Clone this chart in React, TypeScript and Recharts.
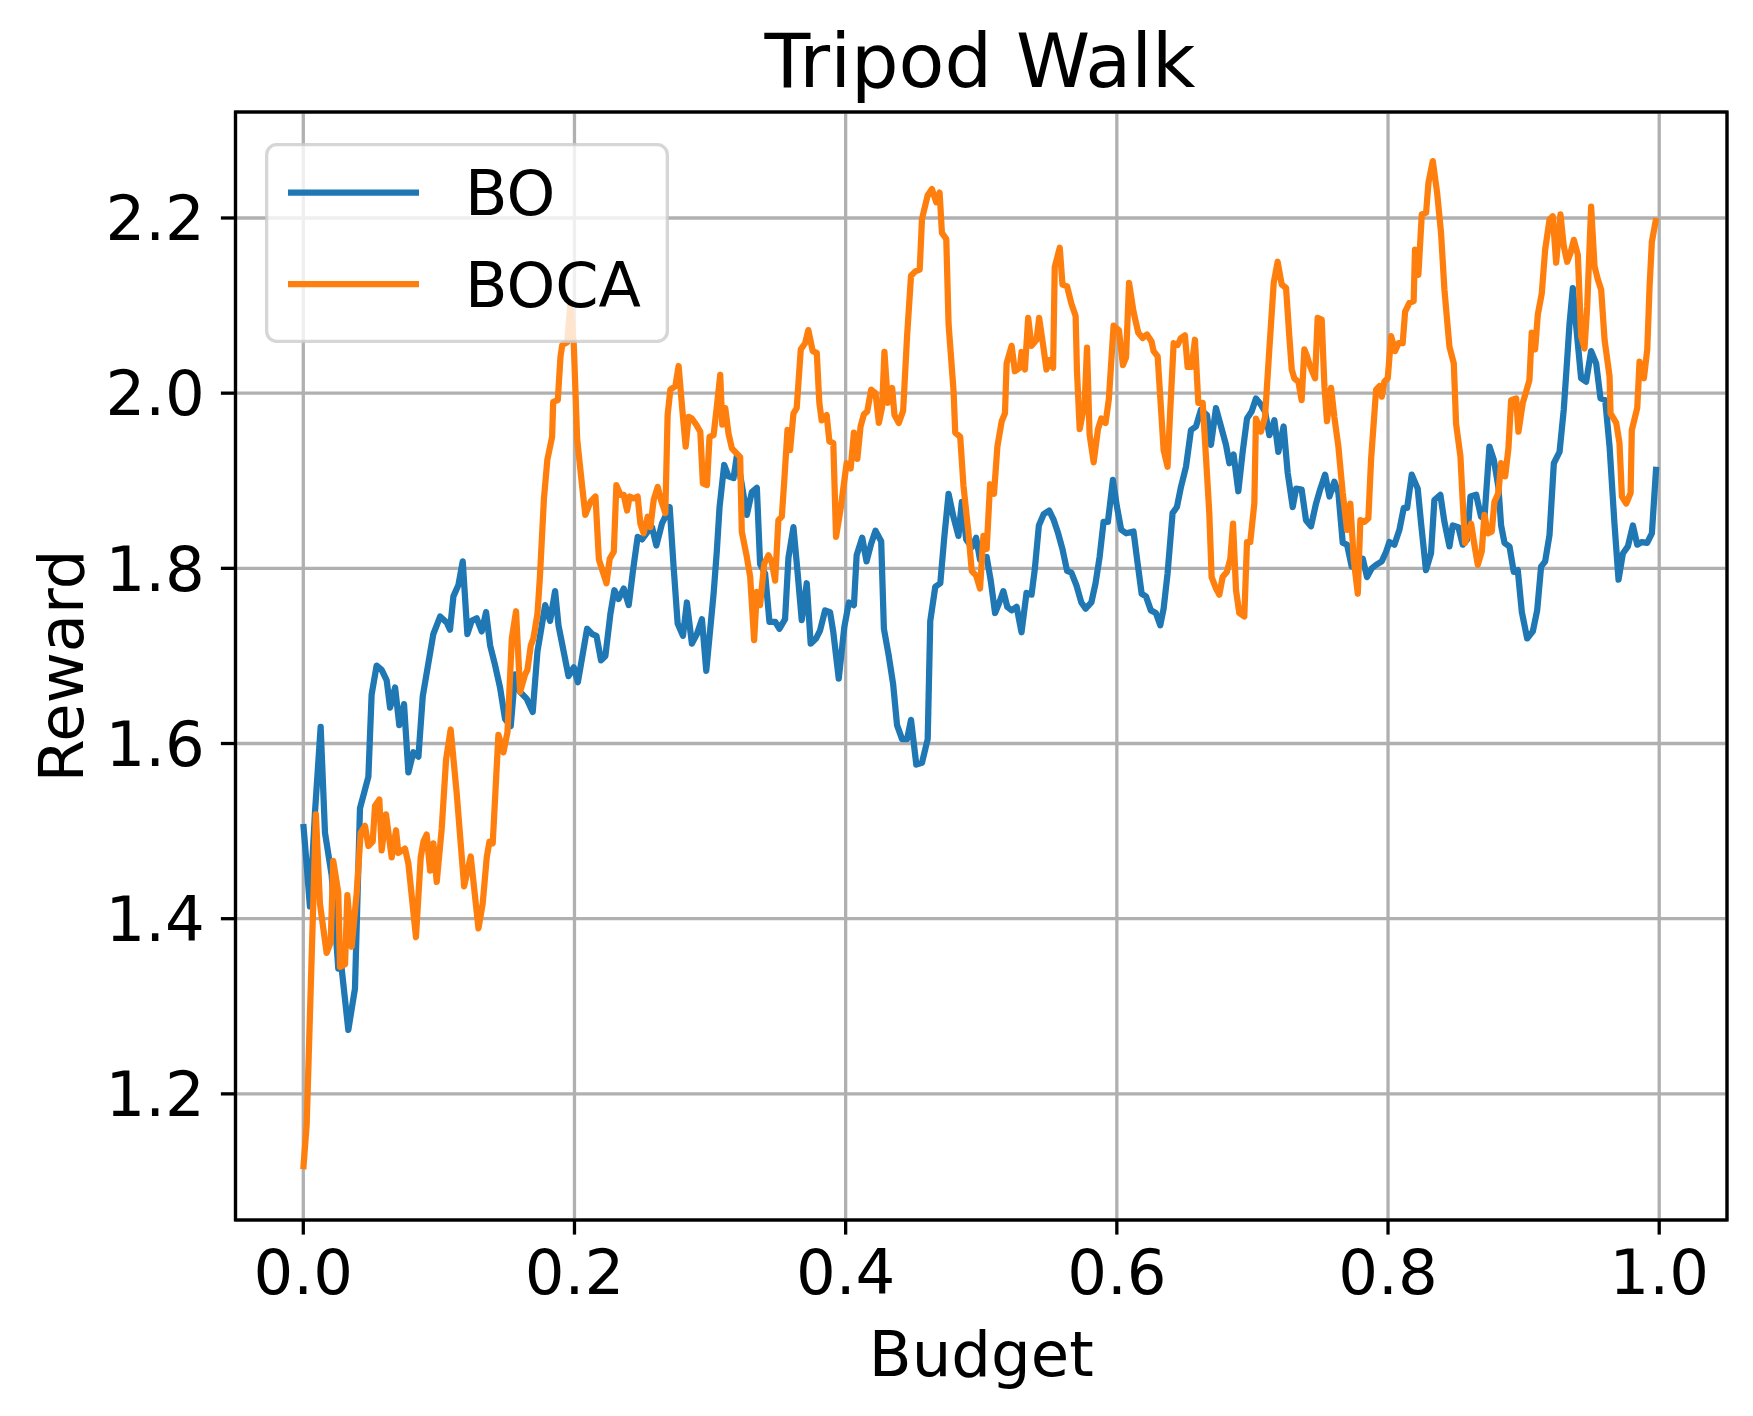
import React from "react";
import { LineChart, Line, XAxis, YAxis, CartesianGrid } from "recharts";

const TITLE = "Tripod Walk";
const X_LABEL = "Budget";
const Y_LABEL = "Reward";
const SERIES_NAMES = ["BO", "BOCA"];

const X_TICKS = [0, 0.2, 0.4, 0.6, 0.8, 1.0];
const Y_TICKS = [1.2, 1.4, 1.6, 1.8, 2.0, 2.2];

const BO_BUDGET = [
  0, 0.0012, 0.0049, 0.0086, 0.0128, 0.016, 0.0209, 0.0258, 0.0283, 0.0332,
  0.0381, 0.0418, 0.048, 0.0504, 0.0541, 0.0578, 0.0615, 0.064, 0.0677, 0.0708,
  0.0743, 0.0775, 0.0812, 0.0849, 0.0881, 0.0959, 0.1009, 0.1058, 0.1082, 0.1107,
  0.1144, 0.1176, 0.121, 0.1242, 0.1279, 0.1316, 0.1348, 0.1378, 0.1415, 0.1451,
  0.1488, 0.153, 0.1562, 0.1599, 0.1648, 0.1692, 0.1727, 0.1784, 0.182, 0.1857,
  0.1882, 0.1956, 0.1995, 0.2025, 0.2093, 0.213, 0.2162, 0.2196, 0.2228, 0.2265,
  0.2294, 0.2326, 0.2363, 0.24, 0.2432, 0.2466, 0.2498, 0.254, 0.2572, 0.2604,
  0.2645, 0.2682, 0.2702, 0.2731, 0.2761, 0.28, 0.2829, 0.2866, 0.2903, 0.294,
  0.2972, 0.3026, 0.305, 0.307, 0.3104, 0.3136, 0.3173, 0.3198, 0.3271, 0.3308,
  0.3345, 0.3369, 0.3406, 0.3438, 0.348, 0.3512, 0.3553, 0.3578, 0.3615, 0.3644,
  0.3676, 0.3713, 0.3742, 0.3782, 0.3811, 0.3848, 0.3885, 0.3909, 0.3949, 0.399,
  0.4024, 0.4061, 0.4081, 0.4122, 0.4154, 0.4188, 0.422, 0.4262, 0.4282, 0.4318,
  0.435, 0.4379, 0.4416, 0.4453, 0.4482, 0.4521, 0.4563, 0.4605, 0.4624, 0.4661,
  0.4698, 0.4727, 0.4759, 0.4796, 0.4832, 0.4857, 0.4889, 0.493, 0.4962, 0.4991,
  0.504, 0.507, 0.5102, 0.5133, 0.5163, 0.5192, 0.5224, 0.5261, 0.5297, 0.5334,
  0.5371, 0.5395, 0.5425, 0.5461, 0.5501, 0.5535, 0.5567, 0.5599, 0.5633, 0.5665,
  0.5701, 0.5738, 0.577, 0.5812, 0.5843, 0.5873, 0.5902, 0.5934, 0.5971, 0.6,
  0.6032, 0.6069, 0.6123, 0.6153, 0.6183, 0.6215, 0.6251, 0.6288, 0.632, 0.6345,
  0.6374, 0.6411, 0.6443, 0.6473, 0.651, 0.6547, 0.6584, 0.662, 0.6665, 0.6694,
  0.6731, 0.6768, 0.6805, 0.683, 0.6861, 0.6896, 0.6928, 0.696, 0.6994, 0.7026,
  0.7058, 0.7093, 0.7125, 0.7162, 0.7191, 0.723, 0.726, 0.7297, 0.7322, 0.7363,
  0.7395, 0.7432, 0.7469, 0.7501, 0.7536, 0.7568, 0.7604, 0.7634, 0.7666, 0.7698,
  0.7732, 0.7772, 0.7814, 0.7845, 0.788, 0.7912, 0.7954, 0.7986, 0.801, 0.8047,
  0.8084, 0.8116, 0.8141, 0.8175, 0.8219, 0.8244, 0.828, 0.8317, 0.8342, 0.8386,
  0.8416, 0.8453, 0.8477, 0.8519, 0.8551, 0.8583, 0.8608, 0.865, 0.8686, 0.8711,
  0.8748, 0.878, 0.8814, 0.8834, 0.8859, 0.8896, 0.8927, 0.8957, 0.8987, 0.9026,
  0.9068, 0.91, 0.9129, 0.9159, 0.9191, 0.9223, 0.9265, 0.9296, 0.9321, 0.9338,
  0.9363, 0.9388, 0.9424, 0.9461, 0.9498, 0.9535, 0.9567, 0.9602, 0.9634, 0.967,
  0.97, 0.9732, 0.9769, 0.9806, 0.9838, 0.9872, 0.9911, 0.9946, 0.9978,
];

const BO_REWARD = [
  1.508, 1.486, 1.414, 1.521, 1.619, 1.498, 1.45, 1.343, 1.343, 1.273,
  1.32, 1.526, 1.562, 1.656, 1.689, 1.684, 1.672, 1.641, 1.664, 1.621,
  1.645, 1.567, 1.59, 1.585, 1.654, 1.725, 1.745, 1.738, 1.73, 1.768,
  1.781, 1.808, 1.725, 1.74, 1.743, 1.728, 1.75, 1.712, 1.689, 1.664,
  1.628, 1.62, 1.679, 1.659, 1.651, 1.636, 1.705, 1.758, 1.74, 1.774,
  1.735, 1.677, 1.687, 1.67, 1.731, 1.725, 1.723, 1.695, 1.7, 1.748,
  1.775, 1.765, 1.777, 1.758, 1.798, 1.836, 1.833, 1.842, 1.847, 1.826,
  1.851, 1.863, 1.87, 1.802, 1.737, 1.723, 1.761, 1.714, 1.725, 1.742,
  1.683, 1.771, 1.82, 1.87, 1.918, 1.905, 1.903, 1.929, 1.861, 1.887,
  1.892, 1.805, 1.794, 1.739, 1.739, 1.731, 1.742, 1.812, 1.847, 1.798,
  1.741, 1.783, 1.714, 1.72, 1.729, 1.752, 1.75, 1.727, 1.674, 1.733,
  1.761, 1.758, 1.815, 1.835, 1.808, 1.828, 1.843, 1.831, 1.731, 1.7,
  1.668, 1.621, 1.605, 1.605, 1.627, 1.576, 1.578, 1.605, 1.74, 1.779,
  1.783, 1.835, 1.885, 1.858, 1.837, 1.876, 1.833, 1.824, 1.835, 1.81,
  1.813, 1.786, 1.749, 1.761, 1.774, 1.756, 1.752, 1.756, 1.727, 1.772,
  1.77, 1.799, 1.849, 1.862, 1.866, 1.855, 1.84, 1.822, 1.797, 1.795,
  1.781, 1.761, 1.754, 1.761, 1.783, 1.813, 1.853, 1.853, 1.901, 1.871,
  1.844, 1.84, 1.842, 1.806, 1.771, 1.768, 1.752, 1.749, 1.735, 1.754,
  1.794, 1.863, 1.87, 1.893, 1.916, 1.958, 1.962, 1.981, 1.975, 1.941,
  1.983, 1.962, 1.941, 1.92, 1.93, 1.888, 1.933, 1.971, 1.979, 1.994,
  1.988, 1.979, 1.952, 1.969, 1.933, 1.962, 1.909, 1.87, 1.891, 1.89,
  1.855, 1.848, 1.874, 1.891, 1.907, 1.882, 1.899, 1.886, 1.829, 1.827,
  1.802, 1.802, 1.811, 1.79, 1.8, 1.804, 1.808, 1.819, 1.83, 1.827,
  1.844, 1.869, 1.869, 1.907, 1.891, 1.851, 1.798, 1.817, 1.878, 1.884,
  1.853, 1.825, 1.849, 1.847, 1.827, 1.833, 1.882, 1.884, 1.859, 1.857,
  1.939, 1.924, 1.893, 1.849, 1.829, 1.825, 1.796, 1.798, 1.75, 1.72,
  1.728, 1.752, 1.802, 1.808, 1.838, 1.92, 1.933, 1.981, 2.038, 2.078,
  2.12, 2.076, 2.017, 2.013, 2.048, 2.034, 1.994, 1.992, 1.939, 1.851,
  1.787, 1.817, 1.825, 1.849, 1.827, 1.83, 1.829, 1.84, 1.916,
];

const BOCA_BUDGET = [
  0, 0.0025, 0.0093, 0.0123, 0.0172, 0.0202, 0.0221, 0.0258, 0.0271, 0.0308,
  0.0325, 0.0357, 0.0394, 0.0423, 0.0455, 0.048, 0.0512, 0.0529, 0.0561, 0.0578,
  0.061, 0.0652, 0.0684, 0.0701, 0.075, 0.0775, 0.0831, 0.0866, 0.0886, 0.091,
  0.0935, 0.0959, 0.0984, 0.1021, 0.1053, 0.1087, 0.1132, 0.1186, 0.1235, 0.1292,
  0.1323, 0.1353, 0.1373, 0.1397, 0.1439, 0.1476, 0.1506, 0.1538, 0.1569, 0.1599,
  0.1636, 0.1653, 0.1678, 0.1697, 0.1727, 0.1745, 0.1775, 0.18, 0.1835, 0.1843,
  0.1877, 0.1897, 0.191, 0.1946, 0.197, 0.1995, 0.202, 0.2057, 0.208, 0.2118,
  0.2155, 0.218, 0.2236, 0.226, 0.229, 0.2309, 0.2339, 0.2363, 0.2388, 0.2407,
  0.2437, 0.2466, 0.2486, 0.251, 0.254, 0.256, 0.2584, 0.2614, 0.2638, 0.267,
  0.2687, 0.2707, 0.2744, 0.2768, 0.28, 0.282, 0.2842, 0.2866, 0.2898, 0.2928,
  0.2947, 0.2977, 0.2996, 0.3026, 0.305, 0.3075, 0.309, 0.3112, 0.3136, 0.3161,
  0.3185, 0.3222, 0.3234, 0.3271, 0.3296, 0.3325, 0.3345, 0.3369, 0.3399, 0.3431,
  0.3455, 0.348, 0.3504, 0.3529, 0.3546, 0.3571, 0.359, 0.3615, 0.3639, 0.3669,
  0.3701, 0.3725, 0.3757, 0.3787, 0.3806, 0.3823, 0.386, 0.388, 0.3909, 0.3929,
  0.3963, 0.4007, 0.4037, 0.4061, 0.4086, 0.411, 0.4135, 0.4159, 0.4188, 0.422,
  0.4245, 0.4269, 0.4286, 0.4311, 0.4343, 0.436, 0.4392, 0.4424, 0.4453, 0.4482,
  0.4514, 0.4546, 0.4563, 0.4605, 0.4636, 0.4668, 0.4693, 0.471, 0.4742, 0.4759,
  0.4796, 0.4808, 0.4845, 0.4869, 0.4906, 0.493, 0.4962, 0.4991, 0.5016, 0.504,
  0.5065, 0.5094, 0.5119, 0.5151, 0.5175, 0.5187, 0.5224, 0.5248, 0.5285, 0.5297,
  0.5322, 0.5346, 0.5371, 0.5408, 0.5427, 0.5457, 0.5481, 0.5506, 0.553, 0.5542,
  0.5579, 0.5599, 0.5633, 0.5665, 0.5696, 0.5706, 0.5726, 0.5763, 0.578, 0.5799,
  0.5829, 0.5861, 0.5885, 0.5917, 0.5941, 0.5976, 0.6015, 0.6045, 0.6068, 0.609,
  0.6123, 0.6158, 0.619, 0.6222, 0.6256, 0.6271, 0.6301, 0.632, 0.6345, 0.6374,
  0.6394, 0.6419, 0.6448, 0.6473, 0.6502, 0.6522, 0.6552, 0.6576, 0.6601, 0.6633,
  0.6657, 0.6682, 0.6699, 0.6731, 0.6756, 0.678, 0.6812, 0.6837, 0.6857, 0.6879,
  0.6903, 0.694, 0.696, 0.6984, 0.7014, 0.7026, 0.7063, 0.7093, 0.7125, 0.7157,
  0.7186, 0.7216, 0.7248, 0.7272, 0.729, 0.7309, 0.7339, 0.7363, 0.7383, 0.7403,
  0.7427, 0.7462, 0.7481, 0.7511, 0.7531, 0.755, 0.758, 0.7604, 0.7634, 0.7666,
  0.7698, 0.7722, 0.7747, 0.7777, 0.7796, 0.7826, 0.7855, 0.7875, 0.7912, 0.7937,
  0.7954, 0.7973, 0.7998, 0.8023, 0.8052, 0.8077, 0.8108, 0.8126, 0.8158, 0.8189,
  0.8199, 0.8224, 0.8249, 0.8281, 0.8298, 0.833, 0.8362, 0.8391, 0.8416, 0.8453,
  0.8485, 0.8502, 0.8534, 0.8551, 0.8568, 0.8613, 0.8637, 0.8662, 0.8691, 0.8711,
  0.8736, 0.8765, 0.8785, 0.8814, 0.8834, 0.8864, 0.8888, 0.8908, 0.8945, 0.8962,
  0.8994, 0.9019, 0.9043, 0.906, 0.9085, 0.9105, 0.9134, 0.9159, 0.9191, 0.9215,
  0.924, 0.9272, 0.9296, 0.9321, 0.9346, 0.937, 0.94, 0.9424, 0.9449, 0.9469,
  0.9498, 0.9523, 0.9547, 0.9572, 0.9597, 0.9634, 0.9641, 0.9683, 0.9707, 0.9725,
  0.9757, 0.9789, 0.9798, 0.9838, 0.9855, 0.9887, 0.9912, 0.9929, 0.9946, 0.9978,
];

const BOCA_REWARD = [
  1.114, 1.165, 1.519, 1.417, 1.361, 1.373, 1.466, 1.43, 1.345, 1.348,
  1.427, 1.368, 1.43, 1.498, 1.506, 1.483, 1.488, 1.529, 1.536, 1.478,
  1.519, 1.47, 1.501, 1.475, 1.48, 1.463, 1.379, 1.47, 1.488, 1.496,
  1.455, 1.486, 1.442, 1.503, 1.582, 1.616, 1.542, 1.437, 1.471, 1.389,
  1.417, 1.47, 1.488, 1.486, 1.61, 1.59, 1.613, 1.72, 1.751, 1.659,
  1.679, 1.684, 1.712, 1.72, 1.748, 1.79, 1.88, 1.924, 1.95, 1.99,
  1.992, 2.042, 2.055, 2.058, 2.102, 2.055, 1.947, 1.893, 1.861, 1.876,
  1.882, 1.81, 1.783, 1.811, 1.819, 1.895, 1.884, 1.884, 1.866, 1.882,
  1.88, 1.882, 1.851, 1.84, 1.859, 1.847, 1.878, 1.893, 1.878, 1.863,
  1.975, 2.004, 2.008, 2.031, 1.973, 1.939, 1.973, 1.971, 1.964, 1.956,
  1.897, 1.895, 1.95, 1.952, 1.985, 2.021, 1.964, 1.983, 1.954, 1.937,
  1.933, 1.927, 1.842, 1.813, 1.79, 1.718, 1.773, 1.758, 1.805, 1.815,
  1.807, 1.786, 1.855, 1.859, 1.897, 1.958, 1.935, 1.977, 1.983, 2.05,
  2.057, 2.072, 2.048, 2.046, 1.989, 1.969, 1.975, 1.945, 1.943, 1.836,
  1.868, 1.92, 1.914, 1.955, 1.925, 1.962, 1.976, 1.979, 2.004, 2.0,
  1.966, 1.984, 2.047, 1.989, 2.006, 1.975, 1.966, 1.98, 2.065, 2.134,
  2.139, 2.141, 2.199, 2.226, 2.233, 2.218, 2.229, 2.183, 2.176, 2.079,
  2.002, 1.955, 1.95, 1.894, 1.84, 1.797, 1.792, 1.777, 1.837, 1.822,
  1.896, 1.885, 1.939, 1.968, 1.977, 2.034, 2.054, 2.025, 2.029, 2.047,
  2.027, 2.086, 2.054, 2.061, 2.086, 2.054, 2.027, 2.038, 2.029, 2.144,
  2.166, 2.124, 2.122, 2.102, 2.088, 2.025, 1.959, 1.989, 2.052, 1.953,
  1.921, 1.959, 1.971, 1.966, 1.993, 2.077, 2.072, 2.032, 2.041, 2.126,
  2.093, 2.069, 2.063, 2.067, 2.059, 2.048, 2.042, 1.996, 1.935, 1.916,
  1.981, 2.057, 2.055, 2.063, 2.066, 2.03, 2.03, 2.061, 1.989, 1.989,
  1.928, 1.863, 1.79, 1.777, 1.77, 1.79, 1.796, 1.811, 1.851, 1.775,
  1.749, 1.745, 1.83, 1.83, 1.874, 1.971, 1.956, 1.973, 2.051, 2.126,
  2.15, 2.124, 2.12, 2.065, 2.027, 2.017, 2.013, 1.992, 2.05, 2.042,
  2.03, 2.017, 2.086, 2.084, 2.008, 1.968, 2.006, 1.973, 1.939, 1.886,
  1.844, 1.874, 1.81, 1.771, 1.855, 1.853, 1.857, 1.924, 2.004, 2.008,
  1.996, 2.013, 2.017, 2.065, 2.048, 2.057, 2.057, 2.093, 2.103, 2.105,
  2.164, 2.135, 2.204, 2.206, 2.24, 2.265, 2.229, 2.183, 2.118, 2.053,
  2.034, 1.965, 1.928, 1.876, 1.829, 1.851, 1.827, 1.804, 1.819, 1.861,
  1.84, 1.842, 1.876, 1.886, 1.92, 1.905, 1.937, 1.992, 1.994, 1.956,
  1.989, 2.002, 2.015, 2.069, 2.05, 2.09, 2.114, 2.164, 2.198, 2.202,
  2.149, 2.204, 2.168, 2.15, 2.16, 2.175, 2.158, 2.065, 2.051, 2.099,
  2.213, 2.145, 2.13, 2.118, 2.061, 2.019, 1.977, 1.966, 1.943, 1.882,
  1.874, 1.886, 1.958, 1.983, 2.036, 2.017, 2.05, 2.122, 2.173, 2.2,
];

const BLUE = "#1f77b4";
const ORANGE = "#ff7f0e";
const FONT = "'DejaVu Sans', sans-serif";

const W = 1753;
const H = 1416;
// plot box in page pixels
const PLOT = { left: 235.5, top: 112, right: 1727, bottom: 1220 };
const LW = 6.25;
const THIN = 3.3;
const TICK = 14.6;

const zip = (xs: number[], ys: number[]) => xs.map((x, i) => ({ x, y: ys[i] }));
const boData = zip(BO_BUDGET, BO_REWARD);
const bocaData = zip(BOCA_BUDGET, BOCA_REWARD);

const tickStyle = { fill: "#000", fontSize: 62.5, fontFamily: FONT };
const fmt = (v: number) => v.toFixed(1);

export default function App() {
  const yAxisW = 135;
  const xAxisH = 100;
  const plotW = PLOT.right - PLOT.left;
  const plotH = PLOT.bottom - PLOT.top;

  return (
    <div style={{ position: "absolute", left: 0, top: 0, width: W, height: H, background: "#fff" }}>
      <LineChart
        width={W}
        height={H}
        margin={{
          top: PLOT.top,
          right: W - PLOT.right,
          bottom: H - PLOT.bottom - xAxisH,
          left: PLOT.left - yAxisW,
        }}
      >
        <CartesianGrid stroke="#b0b0b0" strokeWidth={THIN} />
        <XAxis
          type="number"
          dataKey="x"
          domain={[-0.05, 1.05]}
          ticks={X_TICKS}
          tickFormatter={fmt}
          allowDataOverflow
          height={xAxisH}
          axisLine={false}
          tickLine={{ stroke: "#000", strokeWidth: THIN }}
          tickSize={TICK}
          tickMargin={15.4}
          tick={tickStyle}
          interval={0}
        />
        <YAxis
          type="number"
          domain={[1.056, 2.321]}
          ticks={Y_TICKS}
          tickFormatter={fmt}
          allowDataOverflow
          width={yAxisW}
          axisLine={false}
          tickLine={{ stroke: "#000", strokeWidth: THIN }}
          tickSize={TICK}
          tickMargin={16}
          tick={tickStyle}
          interval={0}
        />
        <Line
          data={boData}
          dataKey="y"
          name={SERIES_NAMES[0]}
          stroke={BLUE}
          strokeWidth={LW}
          strokeLinejoin="round"
          dot={false}
          activeDot={false}
          isAnimationActive={false}
          type="linear"
        />
        <Line
          data={bocaData}
          dataKey="y"
          name={SERIES_NAMES[1]}
          stroke={ORANGE}
          strokeWidth={LW}
          strokeLinejoin="round"
          dot={false}
          activeDot={false}
          isAnimationActive={false}
          type="linear"
        />
      </LineChart>

      {/* frame, title, axis labels and legend on top, like matplotlib */}
      <svg
        width={W}
        height={H}
        style={{ position: "absolute", left: 0, top: 0, pointerEvents: "none" }}
        fontFamily={FONT}
      >
        <rect
          x={PLOT.left}
          y={PLOT.top}
          width={plotW}
          height={plotH}
          fill="none"
          stroke="#000"
          strokeWidth={THIN}
        />
        <text x={980} y={87} fontSize={75} textAnchor="middle" fill="#000">
          {TITLE}
        </text>
        <text x={(PLOT.left + PLOT.right) / 2} y={1376} fontSize={62.5} textAnchor="middle" fill="#000">
          {X_LABEL}
        </text>
        <text
          x={83}
          y={(PLOT.top + PLOT.bottom) / 2}
          fontSize={62.5}
          textAnchor="middle"
          fill="#000"
          transform={`rotate(-90 83 ${(PLOT.top + PLOT.bottom) / 2})`}
        >
          {Y_LABEL}
        </text>

        <g transform="translate(265 143)">
          <rect
            x={THIN / 2}
            y={THIN / 2}
            width={404 - THIN}
            height={200 - THIN}
            rx={10}
            fill="#fff"
            fillOpacity={0.8}
            stroke="#cccccc"
            strokeOpacity={0.8}
            strokeWidth={THIN}
          />
          {[BLUE, ORANGE].map((c, i) => (
            <g key={c}>
              <line x1={23} x2={154} y1={49.7 + i * 91.3} y2={49.7 + i * 91.3} stroke={c} strokeWidth={LW} />
              <text x={200} y={72 + i * 92.3} fontSize={62} fill="#000">
                {SERIES_NAMES[i]}
              </text>
            </g>
          ))}
        </g>
      </svg>
    </div>
  );
}
